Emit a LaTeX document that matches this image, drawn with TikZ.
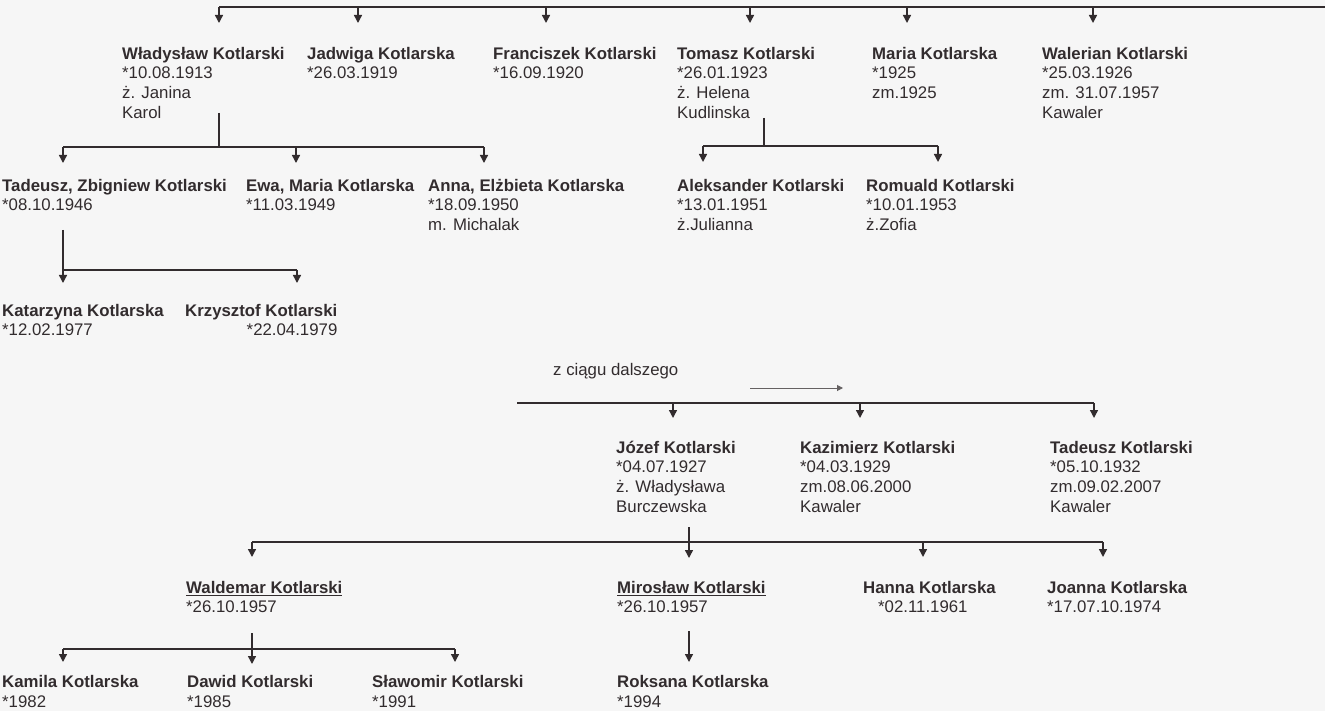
\documentclass[tikz,border=0pt]{standalone}
\usepackage{fontspec}
\setmainfont{Liberation Sans}
\usetikzlibrary{arrows.meta}
\definecolor{ink}{RGB}{50,44,46}
\definecolor{paper}{RGB}{246,246,246}

\begin{document}
\begin{tikzpicture}[x=1pt,y=-1pt,
	person/.style={anchor=north west,inner sep=0pt,align=left,text=ink,font=\fontsize{16.8}{19.7}\selectfont},
	line/.style={ink,line width=1.4pt},
	down/.style={line,-{Triangle[width=8pt,length=8pt]}}]
	\useasboundingbox (0,0) rectangle (1325,711);
	\fill[paper] (0,0) rectangle (1325,711);

	% pierwsze pokolenie
	\node[person] (wladyslaw) at (122,45.2) {\strut\textbf{Władysław Kotlarski}\\{}*10.08.1913\\ż. Janina\\Karol};
	\node[person] (jadwiga) at (307,45.2) {\strut\textbf{Jadwiga Kotlarska}\\{}*26.03.1919};
	\node[person] (franciszek) at (493,45.2) {\strut\textbf{Franciszek Kotlarski}\\{}*16.09.1920};
	\node[person] (tomasz) at (677,45.2) {\strut\textbf{Tomasz Kotlarski}\\{}*26.01.1923\\ż. Helena\\Kudlinska};
	\node[person] (maria) at (872,45.2) {\strut\textbf{Maria Kotlarska}\\{}*1925\\zm.1925};
	\node[person] (walerian) at (1042,45.2) {\strut\textbf{Walerian Kotlarski}\\{}*25.03.1926\\zm. 31.07.1957\\Kawaler};

	\coordinate (bus0w) at (219,7);
	\coordinate (bus0e) at (1325,7);
	\draw[line] (bus0w) -- (bus0e);
	\foreach \n/\x in {wladyslaw/219,jadwiga/358,franciszek/546,tomasz/750,maria/907,walerian/1093}{
		\coordinate (\n-in) at (\x,23);
		\draw[down] (\n-in |- bus0w) -- (\n-in);
	}

	% dzieci Wladyslawa i Tomasza
	\node[person] (tadeuszz) at (2,177.2) {\strut\textbf{Tadeusz, Zbigniew Kotlarski}\\{}*08.10.1946};
	\node[person] (ewa) at (246,177.2) {\strut\textbf{Ewa, Maria Kotlarska}\\{}*11.03.1949};
	\node[person] (anna) at (428,177.2) {\strut\textbf{Anna, Elżbieta Kotlarska}\\{}*18.09.1950\\m. Michalak};
	\node[person] (aleksander) at (677,177.2) {\strut\textbf{Aleksander Kotlarski}\\{}*13.01.1951\\ż.Julianna};
	\node[person] (romuald) at (866,177.2) {\strut\textbf{Romuald Kotlarski}\\{}*10.01.1953\\ż.Zofia};

	\coordinate (wladyslaw-out) at (219,113);
	\coordinate (bus1w) at (63,147);
	\coordinate (bus1e) at (484,147);
	\draw[line] (wladyslaw-out) -- (wladyslaw-out |- bus1w);
	\draw[line] (bus1w) -- (bus1e);
	\foreach \n/\x in {tadeuszz/63,ewa/296,anna/484}{
		\coordinate (\n-in) at (\x,163);
		\draw[down] (\n-in |- bus1w) -- (\n-in);
	}

	\coordinate (tomasz-out) at (764,118);
	\coordinate (bus2w) at (703,146);
	\coordinate (bus2e) at (938,146);
	\draw[line] (tomasz-out) -- (tomasz-out |- bus2w);
	\draw[line] (bus2w) -- (bus2e);
	\foreach \n/\x in {aleksander/703,romuald/938}{
		\coordinate (\n-in) at (\x,162);
		\draw[down] (\n-in |- bus2w) -- (\n-in);
	}

	% dzieci Tadeusza
	\node[person] (katarzyna) at (2,302.2) {\strut\textbf{Katarzyna Kotlarska}\\{}*12.02.1977};
	\node[person,align=right] (krzysztof) at (185,302.2) {\strut\textbf{Krzysztof Kotlarski}\\{}*22.04.1979};

	\coordinate (tadeuszz-out) at (63,230);
	\coordinate (katarzyna-in) at (63,283);
	\coordinate (krzysztof-in) at (297,283);
	\coordinate (bus3) at (63,270);
	\draw[down] (tadeuszz-out) -- (katarzyna-in);
	\draw[line] (bus3) -- (krzysztof-in |- bus3);
	\draw[down] (krzysztof-in |- bus3) -- (krzysztof-in);

	% z ciagu dalszego
	\node[anchor=base west,inner sep=0pt,text=ink,font=\fontsize{16.8}{19.7}\selectfont] (dalej) at (553,375) {z ciągu dalszego};
	\coordinate (dalej-a) at (750,388);
	\coordinate (dalej-b) at (843,388);
	\draw[ink!75,line width=1pt,-{Triangle[width=6pt,length=6pt]}] (dalej-a) -- (dalej-b);

	\node[person] (jozef) at (616,439.2) {\strut\textbf{Józef Kotlarski}\\{}*04.07.1927\\ż. Władysława\\Burczewska};
	\node[person] (kazimierz) at (800,439.2) {\strut\textbf{Kazimierz Kotlarski}\\{}*04.03.1929\\zm.08.06.2000\\Kawaler};
	\node[person] (tadeusz) at (1050,439.2) {\strut\textbf{Tadeusz Kotlarski}\\{}*05.10.1932\\zm.09.02.2007\\Kawaler};

	\coordinate (bus4w) at (517,403);
	\coordinate (bus4e) at (1094,403);
	\draw[line] (bus4w) -- (bus4e);
	\foreach \n/\x in {jozef/673,kazimierz/860,tadeusz/1094}{
		\coordinate (\n-in) at (\x,418);
		\draw[down] (\n-in |- bus4w) -- (\n-in);
	}

	% dzieci Jozefa
	\node[person] (waldemar) at (186,579.2) {\strut\textbf{\underline{Waldemar Kotlarski}}\\{}*26.10.1957};
	\node[person] (miroslaw) at (617,579.2) {\strut\textbf{\underline{Mirosław Kotlarski}}\\{}*26.10.1957};
	\node[person] (hanna) at (863,579.2) {\strut\textbf{Hanna Kotlarska}\\\hspace*{15pt}*02.11.1961};
	\node[person] (joanna) at (1047,579.2) {\strut\textbf{Joanna Kotlarska}\\{}*17.07.10.1974};

	\coordinate (jozef-out) at (689,527);
	\coordinate (miroslaw-in) at (689,558);
	\coordinate (bus5w) at (252,542);
	\coordinate (bus5e) at (1103,542);
	\draw[line] (bus5w) -- (bus5e);
	\draw[down] (jozef-out) -- (miroslaw-in);
	\foreach \n/\x in {waldemar/252,hanna/923,joanna/1103}{
		\coordinate (\n-in) at (\x,557);
		\draw[down] (\n-in |- bus5w) -- (\n-in);
	}

	% wnuki
	\node[person] (kamila) at (2,673.5) {\strut\textbf{Kamila Kotlarska}\\{}*1982};
	\node[person] (dawid) at (187,673.5) {\strut\textbf{Dawid Kotlarski}\\{}*1985};
	\node[person] (slawomir) at (372,673.5) {\strut\textbf{Sławomir Kotlarski}\\{}*1991};
	\node[person] (roksana) at (617,673.5) {\strut\textbf{Roksana Kotlarska}\\{}*1994};

	\coordinate (waldemar-out) at (252,633);
	\coordinate (dawid-in) at (252,664);
	\coordinate (bus6w) at (63,649);
	\coordinate (bus6e) at (455,649);
	\draw[line] (bus6w) -- (bus6e);
	\draw[down] (waldemar-out) -- (dawid-in);
	\foreach \n/\x in {kamila/63,slawomir/455}{
		\coordinate (\n-in) at (\x,662);
		\draw[down] (\n-in |- bus6w) -- (\n-in);
	}

	\coordinate (miroslaw-out) at (689,631);
	\coordinate (roksana-in) at (689,662);
	\draw[down] (miroslaw-out) -- (roksana-in);

\end{tikzpicture}
\end{document}
